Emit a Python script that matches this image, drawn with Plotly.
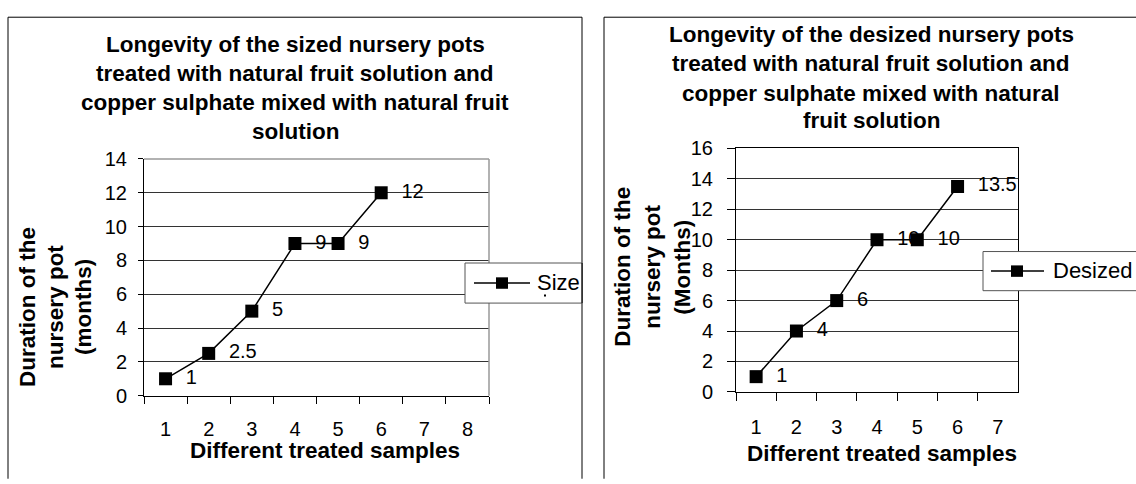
import plotly.graph_objects as go

# ---- data ----
sized_categories = ["1", "2", "3", "4", "5", "6", "7", "8"]
sized_x = ["1", "2", "3", "4", "5", "6"]
sized_values = [1, 2.5, 5, 9, 9, 12]

desized_categories = ["1", "2", "3", "4", "5", "6", "7"]
desized_x = ["1", "2", "3", "4", "5", "6"]
desized_values = [1, 4, 6, 10, 10, 13.5]

left_title = ["Longevity of the sized nursery pots",
              "treated with natural fruit solution and",
              "copper sulphate mixed with natural fruit",
              "solution"]
right_title = ["Longevity of the desized nursery pots",
               "treated with natural fruit solution and",
               "copper sulphate mixed with natural",
               "fruit solution"]
left_ytitle = ["Duration of the", "nursery pot", "(months)"]
right_ytitle = ["Duration of the", "nursery pot", "(Months)"]
xtitle = "Different treated samples"

W, H = 1136, 484
FONT = "Arial, 'Liberation Sans', sans-serif"


def px(x):
    return x / W


def py(y):
    return 1 - y / H


fig = go.Figure()

fig.add_trace(go.Scatter(
    x=sized_x, y=sized_values, xaxis="x", yaxis="y",
    mode="lines+markers+text",
    text=[("  " + str(v)) for v in sized_values],
    textposition="middle right",
    textfont=dict(family=FONT, size=20, color="black"),
    line=dict(color="black", width=1.5),
    marker=dict(symbol="square", size=13, color="black"),
    cliponaxis=False, showlegend=False, name="Sized"))

fig.add_trace(go.Scatter(
    x=desized_x, y=desized_values, xaxis="x2", yaxis="y2",
    mode="lines+markers+text",
    text=[("  " + str(v)) for v in desized_values],
    textposition="middle right",
    textfont=dict(family=FONT, size=20, color="black"),
    line=dict(color="black", width=1.5),
    marker=dict(symbol="square", size=13, color="black"),
    cliponaxis=False, showlegend=False, name="Desized"))

tickfont = dict(family=FONT, size=20, color="black")

fig.update_layout(
    width=W, height=H,
    margin=dict(l=0, r=0, t=0, b=0),
    paper_bgcolor="white", plot_bgcolor="white",
    font=dict(family=FONT, color="black"),
    xaxis=dict(domain=[px(144), px(489)], anchor="y", type="category",
               categoryorder="array", categoryarray=sized_categories,
               range=[-0.5, 7.5], tickson="boundaries", ticks="outside",
               ticklen=7, tickcolor="black", showline=True, linecolor="black",
               linewidth=1, showgrid=False, tickfont=tickfont,
               ticklabelstandoff=15, fixedrange=True),
    yaxis=dict(domain=[py(403), py(155)], anchor="x", range=[0, 14], dtick=2,
               ticks="outside", ticklen=5, tickcolor="black", showline=True,
               linecolor="black", linewidth=1, showgrid=True,
               gridcolor="#333333", gridwidth=1, zeroline=False,
               tickfont=tickfont, ticklabelstandoff=7),
    xaxis2=dict(domain=[px(736), px(1018)], anchor="y2", type="category",
                categoryorder="array", categoryarray=desized_categories,
                range=[-0.5, 6.5], tickson="boundaries", ticks="outside",
                ticklen=8, tickcolor="black", showline=True, linecolor="black",
                linewidth=1, mirror=True, showgrid=False, tickfont=tickfont,
                ticklabelstandoff=17),
    yaxis2=dict(domain=[py(399), py(144)], anchor="x2", range=[0, 16], dtick=2,
                ticks="outside", ticklen=8, tickcolor="black", showline=True,
                linecolor="black", linewidth=1, mirror=True, showgrid=True,
                gridcolor="#333333", gridwidth=1, zeroline=False,
                tickfont=tickfont, ticklabelstandoff=10),
)

shapes = []
# outer chart borders
shapes.append(dict(type="line", xref="paper", yref="paper",
                   x0=px(8), x1=px(8), y0=py(6.5), y1=py(490),
                   line=dict(color="black", width=1)))
shapes.append(dict(type="line", xref="paper", yref="paper",
                   x0=px(8), x1=px(582), y0=py(6.5), y1=py(6.5),
                   line=dict(color="black", width=1)))
shapes.append(dict(type="line", xref="paper", yref="paper",
                   x0=px(582), x1=px(582), y0=py(6.5), y1=py(490),
                   line=dict(color="black", width=1)))
shapes.append(dict(type="line", xref="paper", yref="paper",
                   x0=px(604), x1=px(604), y0=py(6.5), y1=py(490),
                   line=dict(color="black", width=1)))
shapes.append(dict(type="line", xref="paper", yref="paper",
                   x0=px(604), x1=px(1140), y0=py(6.5), y1=py(6.5),
                   line=dict(color="black", width=1)))
# left plot area top/right border (gray)
shapes.append(dict(type="line", xref="paper", yref="paper", layer="above",
                   x0=px(144), x1=px(489), y0=py(155), y1=py(155),
                   line=dict(color="#999999", width=1.5)))
shapes.append(dict(type="line", xref="paper", yref="paper", layer="above",
                   x0=px(489), x1=px(489), y0=py(155), y1=py(403),
                   line=dict(color="#999999", width=1.5)))

# legend boxes (manual)
shapes.append(dict(type="rect", xref="paper", yref="paper", layer="above",
                   x0=px(465), x1=px(582), y0=py(306), y1=py(264),
                   fillcolor="white", line=dict(color="#555555", width=1)))
shapes.append(dict(type="line", xref="paper", yref="paper", layer="above",
                   x0=px(474), x1=px(530), y0=py(285), y1=py(285),
                   line=dict(color="black", width=1.5)))
shapes.append(dict(type="rect", xref="paper", yref="paper", layer="above",
                   x0=px(496), x1=px(508), y0=py(291), y1=py(279),
                   fillcolor="black", line=dict(color="black", width=0)))
shapes.append(dict(type="line", xref="paper", yref="paper", layer="above",
                   x0=px(582), x1=px(582), y0=py(264), y1=py(306),
                   line=dict(color="black", width=1)))
# small stray dot under "Size" in the legend
shapes.append(dict(type="rect", xref="paper", yref="paper", layer="above",
                   x0=px(544), x1=px(546), y0=py(299), y1=py(297),
                   fillcolor="black", line=dict(color="black", width=0)))

shapes.append(dict(type="rect", xref="paper", yref="paper", layer="above",
                   x0=px(983), x1=px(1140), y0=py(293), y1=py(252),
                   fillcolor="white", line=dict(color="#555555", width=1)))
shapes.append(dict(type="line", xref="paper", yref="paper", layer="above",
                   x0=px(991), x1=px(1044), y0=py(272.5), y1=py(272.5),
                   line=dict(color="black", width=1.5)))
shapes.append(dict(type="rect", xref="paper", yref="paper", layer="above",
                   x0=px(1011), x1=px(1023), y0=py(278.5), y1=py(266.5),
                   fillcolor="black", line=dict(color="black", width=0)))
fig.update_layout(shapes=shapes)

ann = []
bold = dict(family=FONT, size=22.5, color="black")
for t, y in zip(left_title, [35, 65, 96, 126]):
    ann.append(dict(text="<b>" + t + "</b>", x=px(295), y=py(y), xref="paper",
                    yref="paper", showarrow=False, xanchor="center",
                    yanchor="middle", font=bold))
for t, y in zip(right_title, [25, 55, 86, 115]):
    ann.append(dict(text="<b>" + t + "</b>", x=px(871), y=py(y), xref="paper",
                    yref="paper", showarrow=False, xanchor="center",
                    yanchor="middle", font=bold))
for t, x in zip(left_ytitle, [28, 56, 84]):
    ann.append(dict(text="<b>" + t + "</b>", x=px(x), y=py(310), xref="paper",
                    yref="paper", showarrow=False, xanchor="center",
                    yanchor="middle", textangle=-90, font=bold))
for t, x in zip(right_ytitle, [623, 653, 683]):
    ann.append(dict(text="<b>" + t + "</b>", x=px(x), y=py(268), xref="paper",
                    yref="paper", showarrow=False, xanchor="center",
                    yanchor="middle", textangle=-90, font=bold))
ann.append(dict(text="<b>" + xtitle + "</b>", x=px(324.5), y=py(460),
                xref="paper", yref="paper", showarrow=False, xanchor="center",
                yanchor="middle", font=bold))
ann.append(dict(text="<b>" + xtitle + "</b>", x=px(882), y=py(463.5),
                xref="paper", yref="paper", showarrow=False, xanchor="center",
                yanchor="middle", font=bold))
# legend texts
ann.append(dict(text="Size", x=px(535), y=py(284), xref="paper", yref="paper",
                showarrow=False, xanchor="left", yanchor="middle",
                font=dict(family=FONT, size=22, color="black")))
ann.append(dict(text="Desized", x=px(1051), y=py(272), xref="paper",
                yref="paper", showarrow=False, xanchor="left",
                yanchor="middle",
                font=dict(family=FONT, size=22, color="black")))
fig.update_layout(annotations=ann)

post = (
    "var de=document.documentElement, b=document.body;"
    "de.style.margin='0'; de.style.padding='0'; de.style.overflow='hidden';"
    "b.style.margin='0'; b.style.padding='0'; b.style.overflow='hidden';"
    "var gd=document.getElementById('{plot_id}');"
    "gd.style.position='fixed'; gd.style.left='0px'; gd.style.top='0px';"
)
fig.write_html("out.html", config={"displayModeBar": False}, post_script=post)
